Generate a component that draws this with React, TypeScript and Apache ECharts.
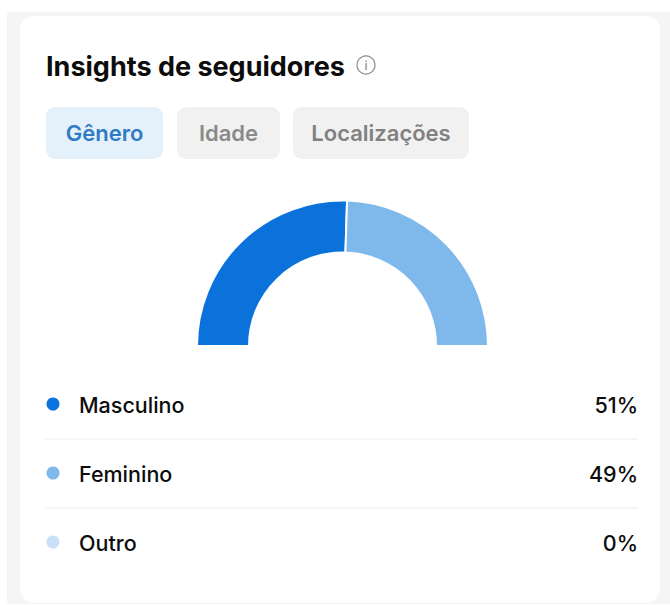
import React, { useEffect, useRef } from "react";
import * as echarts from "echarts";

const categories = ["Masculino", "Feminino", "Outro"];
const values = [51, 49, 0];
const colors = ["#0b72dc", "#7fb9ec", "#c9e0f7"];
const valueLabels = ["51%", "49%", "0%"];
const tabs = ["Gênero", "Idade", "Localizações"];
const titleText = "Insights de seguidores";

const FONT = "Inter, 'Noto Sans', sans-serif";

export default function App() {
  const ref = useRef<HTMLDivElement>(null);
  useEffect(() => {
    document.body.style.margin = "0";
    const chart = echarts.init(ref.current!, null, { renderer: "svg" });
    const rowY = [405, 474, 543];
    const tabBoxes = [
      { x: 46, w: 117, fill: "#e4f0fa", color: "#2f7cc4", weight: 600 },
      { x: 177, w: 103, fill: "#f1f1f1", color: "#8a8a8a", weight: 600 },
      { x: 293, w: 176, fill: "#f1f1f1", color: "#808080", weight: 600 },
    ];
    const graphic: any[] = [
      { type: "rect", z: -2, shape: { x: 7, y: 12, width: 663, height: 592 }, style: { fill: "#f5f5f5" } },
      { type: "rect", z: -1, shape: { x: 20, y: 16, width: 640, height: 587, r: 14 }, style: { fill: "#ffffff" } },
      {
        type: "text", x: 46, y: 66,
        style: { text: titleText, font: `700 27px ${FONT}`, fill: "#0c0c0c", textVerticalAlign: "middle" },
      },
      { type: "circle", shape: { cx: 366, cy: 65, r: 9 }, style: { fill: "none", stroke: "#8c8c8c", lineWidth: 1.2 } },
      { type: "text", x: 366, y: 65.5, style: { text: "i", font: `500 12px ${FONT}`, fill: "#8c8c8c", textAlign: "center", textVerticalAlign: "middle" } },
    ];
    tabs.forEach((t, i) => {
      const b = tabBoxes[i];
      graphic.push({ type: "rect", shape: { x: b.x, y: 107, width: b.w, height: 52, r: 9 }, style: { fill: b.fill } });
      graphic.push({
        type: "text", x: b.x + b.w / 2, y: 133,
        style: { text: t, font: `${b.weight} 22px ${FONT}`, fill: b.color, textAlign: "center", textVerticalAlign: "middle" },
      });
    });
    categories.forEach((c, i) => {
      graphic.push({ type: "circle", shape: { cx: 53, cy: rowY[i] - 1, r: 6.5 }, style: { fill: colors[i] } });
      graphic.push({ type: "text", x: 79, y: rowY[i], style: { text: c, font: `500 21.5px ${FONT}`, fill: "#0c0c0c", textVerticalAlign: "middle" } });
      graphic.push({ type: "text", x: 638, y: rowY[i], style: { text: valueLabels[i], font: `500 21.5px ${FONT}`, fill: "#0c0c0c", textAlign: "right", textVerticalAlign: "middle" } });
      if (i < 2) {
        const ly = rowY[i] + 34;
        graphic.push({ type: "line", shape: { x1: 45, y1: ly, x2: 638, y2: ly }, style: { stroke: "#ececec", lineWidth: 1 } });
      }
    });
    chart.setOption({
      animation: false,
      graphic,
      series: [
        {
          type: "pie",
          center: [342.5, 346],
          radius: [93.5, 145.5],
          startAngle: 180,
          endAngle: 360,
          clockwise: true,
          silent: true,
          label: { show: false },
          labelLine: { show: false },
          itemStyle: { borderColor: "#ffffff", borderWidth: 2 },
          data: categories.map((name, i) => ({ name, value: values[i], itemStyle: { color: colors[i] } })),
        },
      ],
    });
    return () => chart.dispose();
  }, []);
  return <div ref={ref} style={{ width: 670, height: 605 }} />;
}
